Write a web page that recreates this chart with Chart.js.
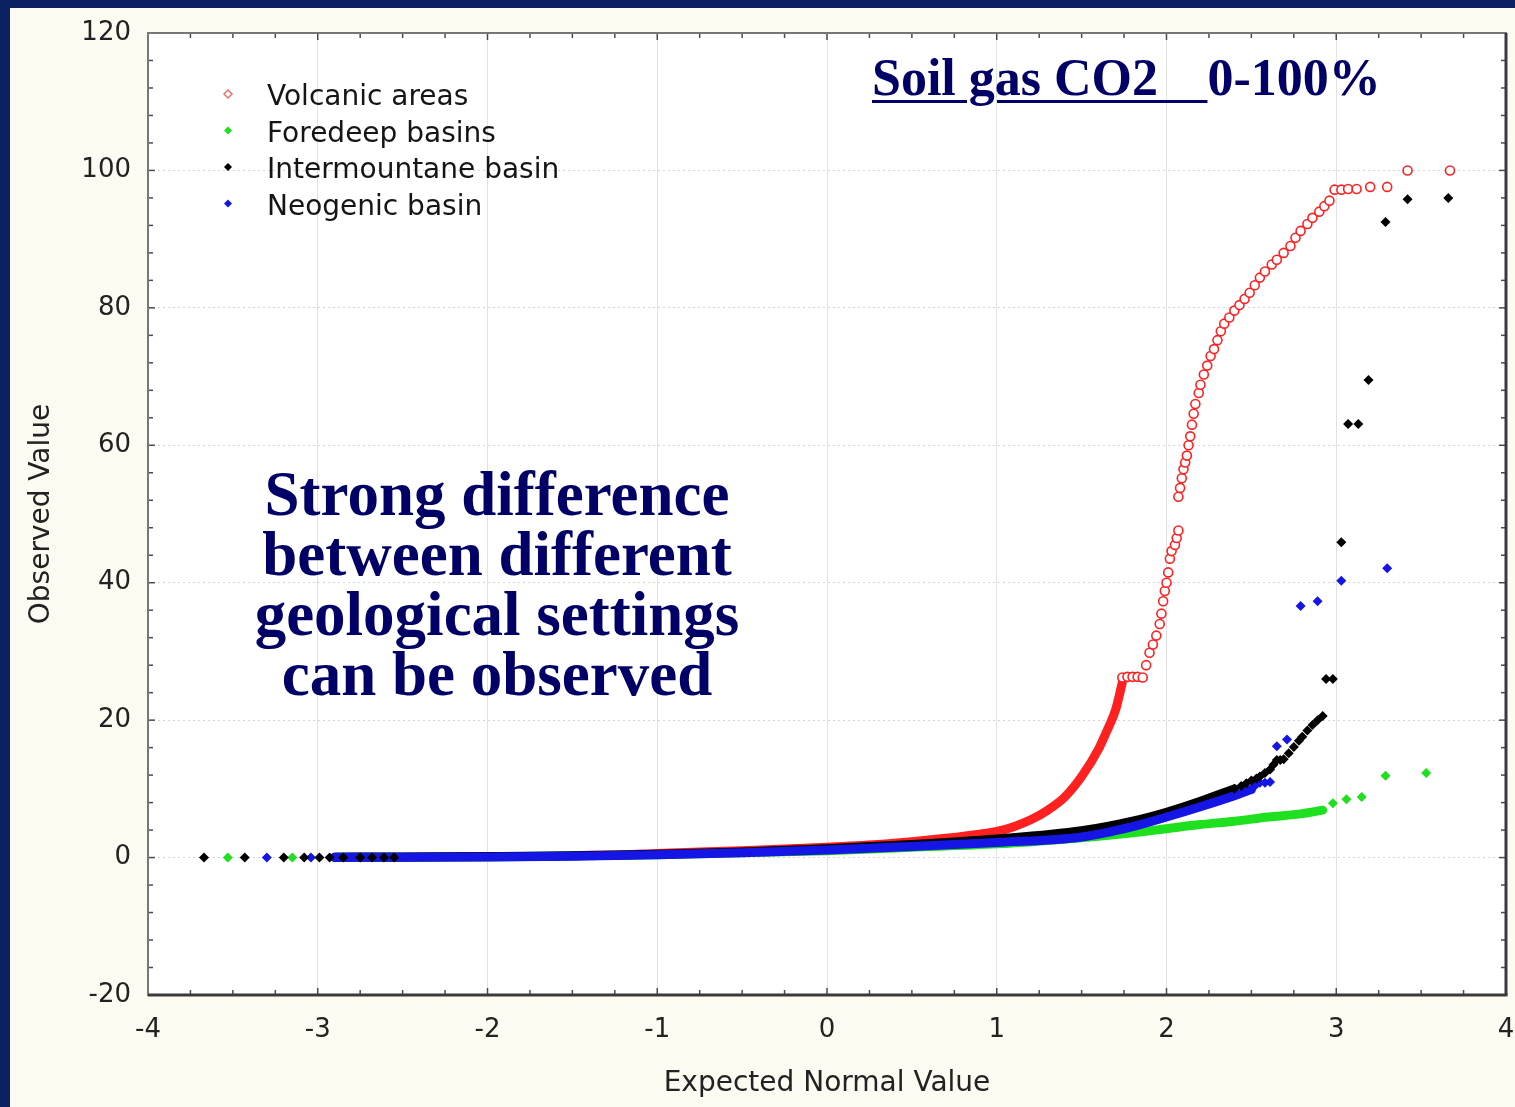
<!DOCTYPE html>
<html>
<head>
<meta charset="utf-8">
<script src="https://cdn.jsdelivr.net/npm/chart.js@4.4.1/dist/chart.umd.min.js"></script>
<style>
html, body { margin: 0; padding: 0; }
body { width: 1515px; height: 1107px; background: #0c2162; overflow: hidden; position: relative; }
#panel { position: absolute; left: 10px; top: 8px; width: 1505px; height: 1099px; background: #fdfaf1; }
#chart { position: absolute; left: 0; top: 0; }
.note { position: absolute; font-family: "Liberation Serif", "Times New Roman", serif; font-weight: bold; color: #000066; white-space: nowrap; }
#title { left: 862px; top: 43.5px; font-size: 52px; line-height: 52px; }
#title u { text-decoration-thickness: 3px; text-underline-offset: 5px; }
#remark { left: 187px; top: 456px; width: 600px; text-align: center; font-size: 63px; line-height: 60px; }
</style>
</head>
<body>
<div id="panel">
  <canvas id="chart" width="1505" height="1099"></canvas>
  <div id="title" class="note"><u>Soil gas CO2&nbsp;&nbsp;&nbsp;&thinsp;</u>0-100%</div>
  <div id="remark" class="note">Strong difference<br>between different<br>geological settings<br>can be observed</div>
</div>
<script>
const seriesNames = ['Volcanic areas', 'Foredeep basins', 'Intermountane basin', 'Neogenic basin'];
const seriesColors = ['#ff2020', '#1ee01e', '#000000', '#1515e6'];

const xTickValues = [-4, -3, -2, -1, 0, 1, 2, 3, 4];
const yTickValues = [-20, 0, 20, 40, 60, 80, 100, 120];

// Volcanic areas: dense low part (band) + separated upper points
const volcanicBandX = [-1.48, -1.2, -1.0, -0.5, 0.0, 0.3, 0.5, 0.7, 0.9, 1.0, 1.1, 1.2, 1.3, 1.4, 1.5, 1.6, 1.65, 1.7, 1.74];
const volcanicBandY = [0.3, 0.4, 0.6, 1.0, 1.5, 1.9, 2.3, 2.8, 3.4, 3.8, 4.5, 5.5, 6.9, 8.8, 11.8, 15.8, 18.5, 21.5, 25.5];
const volcanicX = [1.74, 1.77, 1.80, 1.83, 1.86, 1.88, 1.90, 1.92, 1.94, 1.96, 1.97, 1.98, 1.99, 2.00, 2.01, 2.02, 2.03, 2.05, 2.06, 2.07,
  2.07, 2.08, 2.09, 2.10, 2.11, 2.12, 2.13, 2.14, 2.15, 2.16, 2.17, 2.19, 2.20, 2.22, 2.24, 2.26, 2.28, 2.30, 2.32, 2.34,
  2.37, 2.40, 2.43, 2.46, 2.49, 2.52, 2.55, 2.58, 2.62, 2.65, 2.69, 2.73, 2.76, 2.79, 2.83, 2.86, 2.90, 2.93, 2.96, 2.99,
  3.03, 3.07, 3.12, 3.20, 3.30, 3.42, 3.67];
const volcanicY = [26.2, 26.3, 26.3, 26.3, 26.2, 28.0, 29.8, 31.0, 32.3, 34.0, 35.5, 37.3, 38.8, 40.0, 41.5, 43.5, 44.6, 45.5, 46.5, 47.6,
  52.5, 53.8, 55.2, 56.5, 57.5, 58.5, 60.0, 61.3, 63.0, 64.6, 66.0, 67.6, 68.8, 70.3, 71.6, 73.0, 74.0, 75.3, 76.6, 77.7,
  78.6, 79.6, 80.4, 81.3, 82.2, 83.3, 84.4, 85.3, 86.3, 87.0, 88.0, 89.0, 90.2, 91.2, 92.2, 93.1, 94.0, 94.8, 95.6, 97.2,
  97.2, 97.3, 97.3, 97.6, 97.6, 100, 100];

// Foredeep basins
const foredeepBandX = [-2.9, -2.0, -1.0, 0.0, 0.5, 1.0, 1.5, 1.8, 2.0, 2.2, 2.4, 2.6, 2.8, 2.92];
const foredeepBandY = [0.05, 0.1, 0.4, 1.0, 1.5, 2.0, 2.9, 3.6, 4.2, 4.8, 5.3, 5.9, 6.4, 6.9];
const foredeepX = [-3.53, -3.15, 2.98, 3.06, 3.15, 3.29, 3.53];
const foredeepY = [0, 0, 7.9, 8.5, 8.8, 11.9, 12.3];

// Intermountane basin
const intermountaneBandX = [-2.9, -2.5, -2.0, -1.5, -1.0, -0.5, 0.0, 0.5, 1.0, 1.5, 1.8, 2.0, 2.2, 2.4];
const intermountaneBandY = [0.05, 0.1, 0.15, 0.25, 0.5, 0.8, 1.3, 1.9, 2.7, 3.9, 5.3, 6.6, 8.2, 10.0];
const intermountaneX = [-3.67, -3.43, -3.20, -3.08, -2.99, -2.93, -2.85, -2.75, -2.68, -2.61, -2.55,
  2.40, 2.44, 2.47, 2.50, 2.53, 2.55, 2.58, 2.61, 2.63, 2.65, 2.67, 2.69, 2.72, 2.75, 2.78, 2.80, 2.83, 2.86, 2.89, 2.92,
  2.94, 2.98, 3.03, 3.07, 3.13, 3.19, 3.29, 3.42, 3.66];
const intermountaneY = [0, 0, 0, 0, 0, 0, 0, 0, 0, 0, 0,
  10.0, 10.4, 10.8, 11.2, 11.5, 11.8, 12.3, 12.8, 13.5, 14.2, 14.2, 14.3, 15.2, 16.1, 17.0, 17.6, 18.5, 19.3, 20.0, 20.6,
  26.0, 26.0, 45.9, 63.1, 63.1, 69.5, 92.5, 95.8, 96.0];

// Neogenic basin
const neogenicBandX = [-2.9, -2.5, -2.0, -1.5, -1.0, -0.5, 0.0, 0.5, 1.0, 1.5, 1.8, 2.0, 2.2, 2.4, 2.5];
const neogenicBandY = [0.05, 0.05, 0.1, 0.2, 0.4, 0.7, 1.1, 1.6, 2.2, 3.0, 4.5, 5.9, 7.4, 9.0, 9.9];
const neogenicX = [-3.30, -3.04, 2.52, 2.55, 2.58, 2.61, 2.65, 2.71, 2.79, 2.89, 3.03, 3.30];
const neogenicY = [0, 0, 10.4, 10.9, 10.9, 11.0, 16.2, 17.2, 36.6, 37.3, 40.3, 42.1];

const pts = (xs, ys) => xs.map((x, i) => ({ x: x, y: ys[i] }));

function band(xs, ys, color, order) {
    return {
        data: pts(xs, ys),
        showLine: true,
        borderColor: color,
        borderWidth: 9,
        borderCapStyle: 'round',
        borderJoinStyle: 'round',
        cubicInterpolationMode: 'monotone',
        pointRadius: 0,
        order: order,
    };
}

function marks(xs, ys, color, order) {
    return {
        data: pts(xs, ys),
        pointStyle: 'rectRot',
        pointRadius: 5,
        borderWidth: 0,
        backgroundColor: color,
        borderColor: color,
        order: order,
    };
}

const volcanicMarks = {
    data: pts(volcanicX, volcanicY),
    pointStyle: 'circle',
    pointRadius: 4.5,
    borderWidth: 1.6,
    borderColor: seriesColors[0],
    backgroundColor: '#ffffff',
    order: 6,
};

// white plot area, frame with inward ticks
const frame = {
    id: 'frame',
    beforeDraw(chart) {
        const { ctx, chartArea: a } = chart;
        ctx.save();
        ctx.fillStyle = '#ffffff';
        ctx.fillRect(a.left, a.top, a.right - a.left, a.bottom - a.top);
        ctx.restore();
    },
    afterDraw(chart) {
        const { ctx, chartArea: a, scales } = chart;
        const line = (x1, y1, x2, y2) => { ctx.beginPath(); ctx.moveTo(x1, y1); ctx.lineTo(x2, y2); ctx.stroke(); };
        ctx.save();
        ctx.strokeStyle = '#4a4a4a';
        ctx.lineWidth = 1.5;
        scales.x.ticks.forEach(t => {
            const px = scales.x.getPixelForValue(t.value);
            const len = Number.isInteger(t.value) ? 7 : 5;
            line(px, a.bottom, px, a.bottom - len);
            line(px, a.top, px, a.top + len);
        });
        scales.y.ticks.forEach(t => {
            const py = scales.y.getPixelForValue(t.value);
            const len = t.value % 20 === 0 ? 7 : 5;
            line(a.left, py, a.left + len, py);
            line(a.right, py, a.right - len, py);
        });
        ctx.strokeStyle = '#777777';
        ctx.lineWidth = 2;
        ctx.strokeRect(a.left, a.top, a.right - a.left, a.bottom - a.top);
        ctx.strokeStyle = '#3a3a3a';
        ctx.lineWidth = 3;
        line(a.left, a.bottom, a.right + 1.5, a.bottom);
        line(a.right, a.top, a.right, a.bottom);
        ctx.restore();
    }
};

// legend inside the plot, top left
const legendBox = {
    id: 'legendBox',
    afterDraw(chart) {
        const ctx = chart.ctx;
        ctx.save();
        ctx.font = '28px "DejaVu Sans"';
        ctx.textBaseline = 'alphabetic';
        seriesNames.forEach((name, i) => {
            const yb = 97 + i * 36.5;
            const my = yb - 11;
            ctx.beginPath();
            ctx.moveTo(218, my - 4);
            ctx.lineTo(222, my);
            ctx.lineTo(218, my + 4);
            ctx.lineTo(214, my);
            ctx.closePath();
            if (i === 0) {
                ctx.fillStyle = '#ffffff';
                ctx.fill();
                ctx.strokeStyle = '#f07070';
                ctx.lineWidth = 1.5;
                ctx.stroke();
            } else {
                ctx.fillStyle = seriesColors[i];
                ctx.fill();
            }
            ctx.fillStyle = '#151515';
            ctx.fillText(name, 257, yb);
        });
        ctx.restore();
    }
};

const tickFont = { family: '"DejaVu Sans"', size: 26 };
const titleFont = { family: '"DejaVu Sans"', size: 28 };

new Chart(document.getElementById('chart').getContext('2d'), {
    type: 'scatter',
    data: {
        datasets: [
            marks(intermountaneX, intermountaneY, seriesColors[2], 0),
            marks(neogenicX, neogenicY, seriesColors[3], 1),
            band(neogenicBandX, neogenicBandY, seriesColors[3], 2),
            band(intermountaneBandX, intermountaneBandY, seriesColors[2], 3),
            marks(foredeepX, foredeepY, seriesColors[1], 4),
            band(foredeepBandX, foredeepBandY, seriesColors[1], 5),
            volcanicMarks,
            band(volcanicBandX, volcanicBandY, seriesColors[0], 7),
        ],
    },
    options: {
        responsive: false,
        animation: false,
        devicePixelRatio: 1,
        layout: { padding: { top: 25, right: 9, left: 0, bottom: 0 } },
        plugins: { legend: { display: false }, tooltip: { enabled: false } },
        scales: {
            x: {
                type: 'linear',
                min: -4,
                max: 4,
                afterFit: s => { s.height = 112; s.paddingLeft = 0; s.paddingRight = 0; },
                ticks: {
                    stepSize: 0.25,
                    autoSkip: false,
                    maxRotation: 0,
                    padding: 20,
                    color: '#222222',
                    font: tickFont,
                    callback: v => xTickValues.includes(v) ? String(v) : '',
                },
                grid: {
                    drawTicks: false,
                    lineWidth: 1,
                    color: c => (Number.isInteger(c.tick.value) && Math.abs(c.tick.value) < 4) ? '#e2e2e2' : 'rgba(0,0,0,0)',
                },
                border: { display: false },
                title: { display: true, text: 'Expected Normal Value', color: '#222222', font: titleFont, padding: { top: 0, bottom: 6 } },
            },
            y: {
                type: 'linear',
                min: -20,
                max: 120,
                afterFit: s => { s.width = 138; s.paddingTop = 0; s.paddingBottom = 0; },
                ticks: {
                    stepSize: 4,
                    autoSkip: false,
                    padding: 17,
                    color: '#222222',
                    font: tickFont,
                    callback: v => yTickValues.includes(v) ? String(v) : '',
                },
                grid: {
                    drawTicks: false,
                    lineWidth: 1,
                    color: c => (c.tick.value % 20 === 0 && c.tick.value > -20 && c.tick.value < 120) ? '#d4d4d4' : 'rgba(0,0,0,0)',
                },
                border: { display: false, dash: [2, 3] },
                title: { display: true, text: 'Observed Value', color: '#222222', font: titleFont, padding: { top: 15, bottom: 0 } },
            },
        },
    },
    plugins: [frame, legendBox],
});
</script>
</body>
</html>
